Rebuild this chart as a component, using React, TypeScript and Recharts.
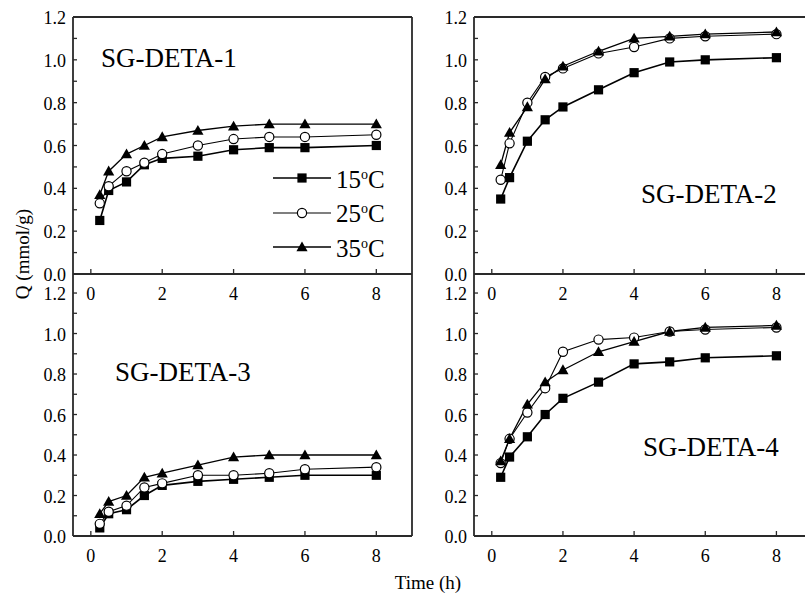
import React from 'react';
import { LineChart, Line, XAxis, YAxis, Legend, ReferenceLine } from 'recharts';

// ---------- data ----------
const TIME = [0.25, 0.5, 1, 1.5, 2, 3, 4, 5, 6, 8];
const TEMPS = ['15', '25', '35'];
const X_TICKS = [0, 2, 4, 6, 8];
const Y_TICKS = [0, 0.1, 0.2, 0.3, 0.4, 0.5, 0.6, 0.7, 0.8, 0.9, 1.0, 1.1, 1.2];
const TITLES = ['SG-DETA-1', 'SG-DETA-2', 'SG-DETA-3', 'SG-DETA-4'];

const DETA1_15 = [0.25, 0.39, 0.43, 0.51, 0.54, 0.55, 0.58, 0.59, 0.59, 0.60];
const DETA1_25 = [0.33, 0.41, 0.48, 0.52, 0.56, 0.60, 0.63, 0.64, 0.64, 0.65];
const DETA1_35 = [0.37, 0.48, 0.56, 0.60, 0.64, 0.67, 0.69, 0.70, 0.70, 0.70];

const DETA2_15 = [0.35, 0.45, 0.62, 0.72, 0.78, 0.86, 0.94, 0.99, 1.00, 1.01];
const DETA2_25 = [0.44, 0.61, 0.80, 0.92, 0.96, 1.03, 1.06, 1.10, 1.11, 1.12];
const DETA2_35 = [0.51, 0.66, 0.78, 0.91, 0.97, 1.04, 1.10, 1.11, 1.12, 1.13];

const DETA3_15 = [0.04, 0.11, 0.13, 0.20, 0.25, 0.27, 0.28, 0.29, 0.30, 0.30];
const DETA3_25 = [0.06, 0.12, 0.15, 0.24, 0.26, 0.30, 0.30, 0.31, 0.33, 0.34];
const DETA3_35 = [0.11, 0.17, 0.20, 0.29, 0.31, 0.35, 0.39, 0.40, 0.40, 0.40];

const DETA4_15 = [0.29, 0.39, 0.49, 0.60, 0.68, 0.76, 0.85, 0.86, 0.88, 0.89];
const DETA4_25 = [0.36, 0.48, 0.61, 0.73, 0.91, 0.97, 0.98, 1.01, 1.02, 1.03];
const DETA4_35 = [0.37, 0.48, 0.65, 0.76, 0.82, 0.91, 0.96, 1.01, 1.03, 1.04];

// ---------- style / layout ----------
const FONT = '"Liberation Serif", "Times New Roman", Times, serif';
const AX = '#2a2a2a';
const TXT = '#000';
const X_DOMAIN: [number, number] = [-0.5, 9];
const UPPER_YMAX = 1.2;
const LOWER_YMAX = 1.294; // lower panels: plot area reaches up to the upper panel's axis

const SERIES = [
  { key: 's15', temp: TEMPS[0], marker: 'square', width: 1.6 },
  { key: 's25', temp: TEMPS[1], marker: 'circle', width: 1.1 },
  { key: 's35', temp: TEMPS[2], marker: 'triangle', width: 1.3 },
];

const buildRows = (a: number[], b: number[], c: number[]) =>
  TIME.map((t, i) => ({ t, s15: a[i], s25: b[i], s35: c[i] }));

const PANELS = [
  { title: TITLES[0], rows: buildRows(DETA1_15, DETA1_25, DETA1_35), left: 0, top: 0, yW: 73, plotW: 339, mTop: 17, plotH: 257, ymax: UPPER_YMAX, topBorder: true, legend: true, tx: 101, tb: 68 },
  { title: TITLES[1], rows: buildRows(DETA2_15, DETA2_25, DETA2_35), left: 410, top: 0, yW: 64, plotW: 338, mTop: 17, plotH: 257, ymax: UPPER_YMAX, topBorder: true, legend: false, tx: 641, tb: 204 },
  { title: TITLES[2], rows: buildRows(DETA3_15, DETA3_25, DETA3_35), left: 0, top: 264, yW: 73, plotW: 339, mTop: 10, plotH: 262, ymax: LOWER_YMAX, topBorder: false, legend: false, tx: 115, tb: 382 },
  { title: TITLES[3], rows: buildRows(DETA4_15, DETA4_25, DETA4_35), left: 410, top: 264, yW: 64, plotW: 338, mTop: 10, plotH: 262, ymax: LOWER_YMAX, topBorder: false, legend: false, tx: 643, tb: 457 },
];

const Y_MARGIN = 7;
const X_MARGIN = 8;

function marker(kind: string, cx: number, cy: number, key?: string) {
  if (kind === 'square')
    return <rect key={key} x={cx - 4.6} y={cy - 4.6} width={9.2} height={9.2} fill="#000" />;
  if (kind === 'circle')
    return <circle key={key} cx={cx} cy={cy} r={4.6} fill="#fff" stroke="#000" strokeWidth={1.2} />;
  return (
    <polygon
      key={key}
      points={`${cx},${cy - 5.6} ${cx + 5.6},${cy + 4.2} ${cx - 5.6},${cy + 4.2}`}
      fill="#000"
    />
  );
}

const YTick = (p: any) => {
  const { x, y, payload } = p;
  const v = payload.value as number;
  const ax = x + Y_MARGIN;
  const major = Math.round(v * 10) % 2 === 0;
  return (
    <g>
      <line x1={ax} x2={ax + 4} y1={y} y2={y} stroke={AX} strokeWidth={1.3} />
      {major && (
        <text x={x} y={y + 7} textAnchor="end" fontFamily={FONT} fontSize={18} fill={TXT}>
          {v.toFixed(1)}
        </text>
      )}
    </g>
  );
};

const XTick = (p: any) => {
  const { x, y, payload } = p;
  const ay = y - X_MARGIN;
  return (
    <g>
      <line x1={x} x2={x} y1={ay} y2={ay - 5} stroke={AX} strokeWidth={1.3} />
      <text x={x} y={y + 18} textAnchor="middle" fontFamily={FONT} fontSize={18} fill={TXT}>
        {payload.value}
      </text>
    </g>
  );
};

const renderLegend = (props: any) => {
  const items = (props && props.payload) || [];
  return (
    <div style={{ fontFamily: FONT, fontSize: 25, color: TXT }}>
      {items.map((item: any) => {
        const s = SERIES.find((z) => z.key === item.dataKey) || SERIES[0];
        return (
          <div key={s.key} style={{ display: 'flex', alignItems: 'center', height: 34.5 }}>
            <svg width={58} height={14} style={{ display: 'block' }}>
              <line x1={0} x2={58} y1={7} y2={7} stroke="#000" strokeWidth={s.width} />
              {marker(s.marker, 29, 7)}
            </svg>
            <span style={{ marginLeft: 5, lineHeight: '25px', whiteSpace: 'nowrap', position: 'relative', top: 1 }}>
              {s.temp}
              <sup style={{ fontSize: 14, lineHeight: 0 }}>o</sup>C
            </span>
          </div>
        );
      })}
    </div>
  );
};

const Panel = ({ cfg }: { cfg: (typeof PANELS)[number] }) => {
  const width = cfg.yW + cfg.plotW + 6;
  const height = cfg.mTop + cfg.plotH + 40;
  return (
    <div style={{ position: 'absolute', left: cfg.left, top: cfg.top }}>
      <LineChart
        width={width}
        height={height}
        data={cfg.rows}
        margin={{ top: cfg.mTop, right: 6, bottom: 0, left: 0 }}
      >
        <XAxis
          dataKey="t"
          type="number"
          domain={X_DOMAIN}
          allowDataOverflow
          ticks={X_TICKS}
          interval={0}
          tickSize={0}
          tickMargin={X_MARGIN}
          tickLine={false}
          axisLine={{ stroke: AX, strokeWidth: 1.8 }}
          tick={(p: any) => <XTick {...p} />}
          height={40}
        />
        <YAxis
          type="number"
          domain={[0, cfg.ymax]}
          allowDataOverflow
          ticks={Y_TICKS}
          interval={0}
          tickSize={0}
          tickMargin={Y_MARGIN}
          tickLine={false}
          axisLine={{ stroke: AX, strokeWidth: 1.8 }}
          tick={(p: any) => <YTick {...p} />}
          width={cfg.yW}
        />
        {cfg.topBorder && <ReferenceLine y={cfg.ymax} stroke={AX} strokeWidth={1.8} />}
        <ReferenceLine x={X_DOMAIN[1]} stroke={AX} strokeWidth={1.8} />
        {SERIES.map((s) => (
          <Line
            key={s.key}
            dataKey={s.key}
            name={`${s.temp}°C`}
            stroke="#000"
            strokeWidth={s.width}
            isAnimationActive={false}
            activeDot={false}
            dot={(p: any) => marker(s.marker, p.cx, p.cy, `${s.key}-${p.index}`)}
          />
        ))}
        {cfg.legend && (
          <Legend
            layout="vertical"
            align="center"
            verticalAlign="middle"
            content={renderLegend}
            wrapperStyle={{ position: 'absolute', left: 273, top: 161, width: 'auto', height: 'auto' }}
          />
        )}
      </LineChart>
    </div>
  );
};

export default function App() {
  return (
    <div
      style={{
        position: 'absolute',
        left: 0,
        top: 0,
        width: 805,
        height: 594,
        overflow: 'hidden',
        background: '#fff',
        fontFamily: FONT,
      }}
    >
      {PANELS.map((cfg) => (
        <Panel key={cfg.title} cfg={cfg} />
      ))}
      {PANELS.map((cfg) => (
        <div
          key={`t-${cfg.title}`}
          style={{
            position: 'absolute',
            left: cfg.tx,
            top: cfg.tb - 22.6,
            fontSize: 27,
            lineHeight: '27px',
            color: TXT,
            whiteSpace: 'nowrap',
          }}
        >
          {cfg.title}
        </div>
      ))}
      <div
        style={{
          position: 'absolute',
          left: 428,
          top: 573,
          transform: 'translateX(-50%)',
          fontSize: 19,
          lineHeight: '19px',
          color: TXT,
          whiteSpace: 'nowrap',
        }}
      >
        Time (h)
      </div>
      <div
        style={{
          position: 'absolute',
          left: 22,
          top: 254,
          transform: 'translate(-50%, -50%) rotate(-90deg)',
          fontSize: 19,
          lineHeight: '19px',
          color: TXT,
          whiteSpace: 'nowrap',
        }}
      >
        Q (mmol/g)
      </div>
    </div>
  );
}
